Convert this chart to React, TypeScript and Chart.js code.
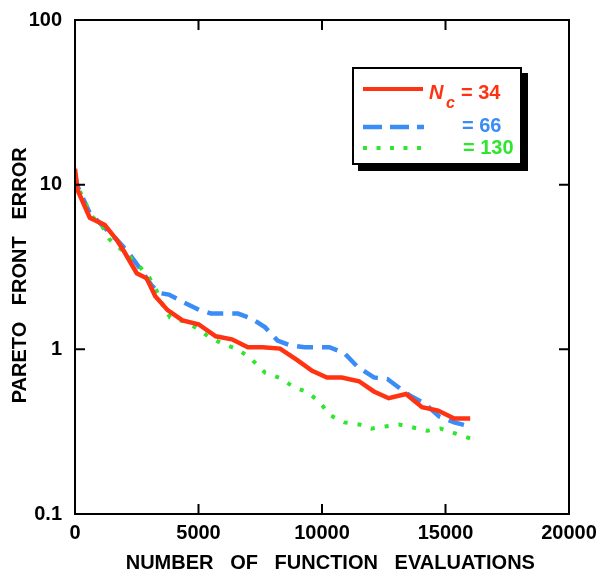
import React, { useEffect, useRef } from 'react';
import { Chart, registerables } from 'chart.js';

Chart.register(...registerables);

// ---- data ----
const evalsNc34 = [0, 100, 600, 1200, 1700, 2000, 2500, 2900, 3250, 3750, 4350, 5000, 5700, 6350, 7000, 7600, 8300, 9000, 9600, 10200, 10800, 11500, 12100, 12700, 13400, 14050, 14700, 15350, 16000];
const errorNc34 = [12.5, 9.3, 6.3, 5.7, 4.6, 3.9, 2.9, 2.7, 2.1, 1.73, 1.5, 1.42, 1.2, 1.15, 1.03, 1.03, 1.01, 0.86, 0.74, 0.675, 0.675, 0.64, 0.555, 0.505, 0.535, 0.445, 0.425, 0.38, 0.38];

const evalsNc66 = [0, 100, 600, 1300, 1650, 2150, 2500, 3100, 3400, 3800, 4400, 5050, 5500, 6600, 7150, 7700, 8200, 8700, 9300, 10300, 10900, 11450, 12100, 12650, 13150, 13550, 14150, 14750, 15350, 16000];
const errorNc66 = [11.5, 9.8, 6.7, 5.3, 4.7, 3.9, 3.3, 2.45, 2.2, 2.15, 1.93, 1.73, 1.65, 1.65, 1.54, 1.36, 1.13, 1.06, 1.03, 1.03, 0.95, 0.78, 0.675, 0.66, 0.58, 0.525, 0.47, 0.39, 0.36, 0.34];

const evalsNc130 = [0, 150, 400, 700, 1100, 1400, 1950, 2500, 3000, 3300, 3550, 3850, 4400, 4950, 5450, 6050, 6600, 7150, 7700, 8300, 8850, 9400, 9900, 10300, 10900, 11500, 12000, 12550, 13100, 13700, 14250, 14800, 15350, 16000];
const errorNc130 = [11, 9.5, 7.8, 6.4, 5.6, 4.65, 3.94, 3.33, 2.74, 2.28, 1.85, 1.56, 1.48, 1.34, 1.18, 1.07, 1.0, 0.87, 0.72, 0.67, 0.59, 0.55, 0.48, 0.4, 0.36, 0.35, 0.33, 0.34, 0.35, 0.335, 0.32, 0.33, 0.31, 0.288];

const xTickValues = [0, 5000, 10000, 15000, 20000];
const yTickValues = [0.1, 1, 10, 100];
const yTickLabels = ['0.1', '1', '10', '100'];

const RED = '#ff3311';
const BLUE = '#3a8cf6';
const GREEN = '#2ee62e';
const FONT = '"Liberation Sans", Arial, Helvetica, sans-serif';

const toPoints = (xs: number[], ys: number[]) => xs.map((x, i) => ({ x, y: ys[i] }));

const frameTicksPlugin = {
  id: 'frameTicks',
  afterDatasetsDraw(chart: any) {
    const { ctx, chartArea: a, scales } = chart;
    const L = 10;
    ctx.save();
    ctx.strokeStyle = '#000';
    ctx.lineWidth = 2;
    ctx.strokeRect(a.left, a.top, a.right - a.left, a.bottom - a.top);
    ctx.beginPath();
    for (const v of xTickValues) {
      const px = scales.x.getPixelForValue(v);
      ctx.moveTo(px, a.bottom);
      ctx.lineTo(px, a.bottom - L);
      ctx.moveTo(px, a.top);
      ctx.lineTo(px, a.top + L);
    }
    for (const v of yTickValues) {
      const py = scales.y.getPixelForValue(v);
      ctx.moveTo(a.left, py);
      ctx.lineTo(a.left + L, py);
      ctx.moveTo(a.right, py);
      ctx.lineTo(a.right - L, py);
    }
    ctx.stroke();
    ctx.restore();
  },
};

const zeroPadding = (s: any) => {
  s.paddingLeft = 0;
  s.paddingRight = 0;
  s.paddingTop = 0;
  s.paddingBottom = 0;
};

export default function App() {
  const canvasRef = useRef<HTMLCanvasElement | null>(null);

  useEffect(() => {
    if (!canvasRef.current) return;
    const chart = new Chart(canvasRef.current, {
      type: 'line',
      data: {
        datasets: [
          {
            label: 'Nc = 34',
            data: toPoints(evalsNc34, errorNc34),
            borderColor: RED,
            borderWidth: 4.5,
            pointRadius: 0,
            tension: 0,
            order: 0,
          },
          {
            label: '= 130',
            data: toPoints(evalsNc130, errorNc130),
            borderColor: GREEN,
            borderWidth: 4,
            borderDash: [4, 10],
            pointRadius: 0,
            tension: 0,
            order: 1,
          },
          {
            label: '= 66',
            data: toPoints(evalsNc66, errorNc66),
            borderColor: BLUE,
            borderWidth: 4.5,
            borderDash: [16, 9],
            pointRadius: 0,
            tension: 0,
            order: 2,
          },
        ],
      },
      options: {
        responsive: false,
        animation: false,
        devicePixelRatio: 1,
        layout: { padding: { left: 0, top: 20, right: 28, bottom: 0 } },
        plugins: { legend: { display: false }, tooltip: { enabled: false } },
        scales: {
          x: {
            type: 'linear',
            min: 0,
            max: 20000,
            afterFit: (s: any) => { s.height = 61; zeroPadding(s); },
            afterBuildTicks: (s: any) => { s.ticks = xTickValues.map((v) => ({ value: v })); },
            grid: { display: false, drawTicks: false },
            border: { display: false },
            ticks: {
              autoSkip: false,
              maxRotation: 0,
              padding: 7,
              color: '#000',
              font: { family: FONT, size: 20, weight: 'bold' },
              callback: (v: any) => String(v),
            },
            title: {
              display: true,
              text: '   NUMBER   OF   FUNCTION   EVALUATIONS',
              color: '#000',
              padding: { top: 0, bottom: 0 },
              font: { family: FONT, size: 20, weight: 'bold' },
            },
          },
          y: {
            type: 'logarithmic',
            min: 0.1,
            max: 100,
            afterFit: (s: any) => { s.width = 75; zeroPadding(s); },
            afterBuildTicks: (s: any) => { s.ticks = yTickValues.map((v) => ({ value: v })); },
            grid: { display: false, drawTicks: false },
            border: { display: false },
            ticks: {
              autoSkip: false,
              padding: 13,
              color: '#000',
              font: { family: FONT, size: 20, weight: 'bold' },
              callback: (v: any) => {
                const i = yTickValues.indexOf(Number(v));
                return i >= 0 ? yTickLabels[i] : '';
              },
            },
            title: {
              display: true,
              text: 'PARETO   FRONT   ERROR   ',
              color: '#000',
              padding: { top: 8, bottom: 0 },
              font: { family: FONT, size: 20, weight: 'bold' },
            },
          },
        },
      },
      plugins: [frameTicksPlugin],
    } as any);
    return () => chart.destroy();
  }, []);

  const txt = (color: string, size: number, italic = false): React.CSSProperties => ({
    position: 'absolute',
    color,
    fontFamily: FONT,
    fontWeight: 'bold',
    fontStyle: italic ? 'italic' : 'normal',
    fontSize: size,
    lineHeight: `${size}px`,
    whiteSpace: 'pre',
  });

  return (
    <div style={{ position: 'fixed', left: 0, top: 0, width: 597, height: 575, background: '#fff' }}>
      <canvas ref={canvasRef} width={597} height={575} style={{ position: 'absolute', left: 0, top: 0 }} />
      <div
        style={{
          position: 'absolute',
          left: 352,
          top: 67,
          width: 170,
          height: 98,
          boxSizing: 'border-box',
          border: '2px solid #000',
          background: '#fff',
          boxShadow: '6px 6px 0 0 #000',
        }}
      />
      <svg width={170} height={98} style={{ position: 'absolute', left: 352, top: 67 }}>
        <line x1={11} y1={22} x2={71} y2={22} stroke={RED} strokeWidth={4} />
        <line x1={11} y1={60} x2={72} y2={60} stroke={BLUE} strokeWidth={4.5} strokeDasharray="19 8" />
        <line x1={11} y1={81} x2={71} y2={81} stroke={GREEN} strokeWidth={4} strokeDasharray="4 9.5" />
      </svg>
      <span style={{ ...txt(RED, 20, true), left: 429, top: 81.5 }}>N</span>
      <span style={{ ...txt(RED, 16, true), left: 446, top: 95 }}>c</span>
      <span style={{ ...txt(RED, 20), left: 461, top: 81.5 }}>= 34</span>
      <span style={{ ...txt(BLUE, 20), left: 462, top: 114.8 }}>= 66</span>
      <span style={{ ...txt(GREEN, 20), left: 463, top: 137.4 }}>= 130</span>
    </div>
  );
}
